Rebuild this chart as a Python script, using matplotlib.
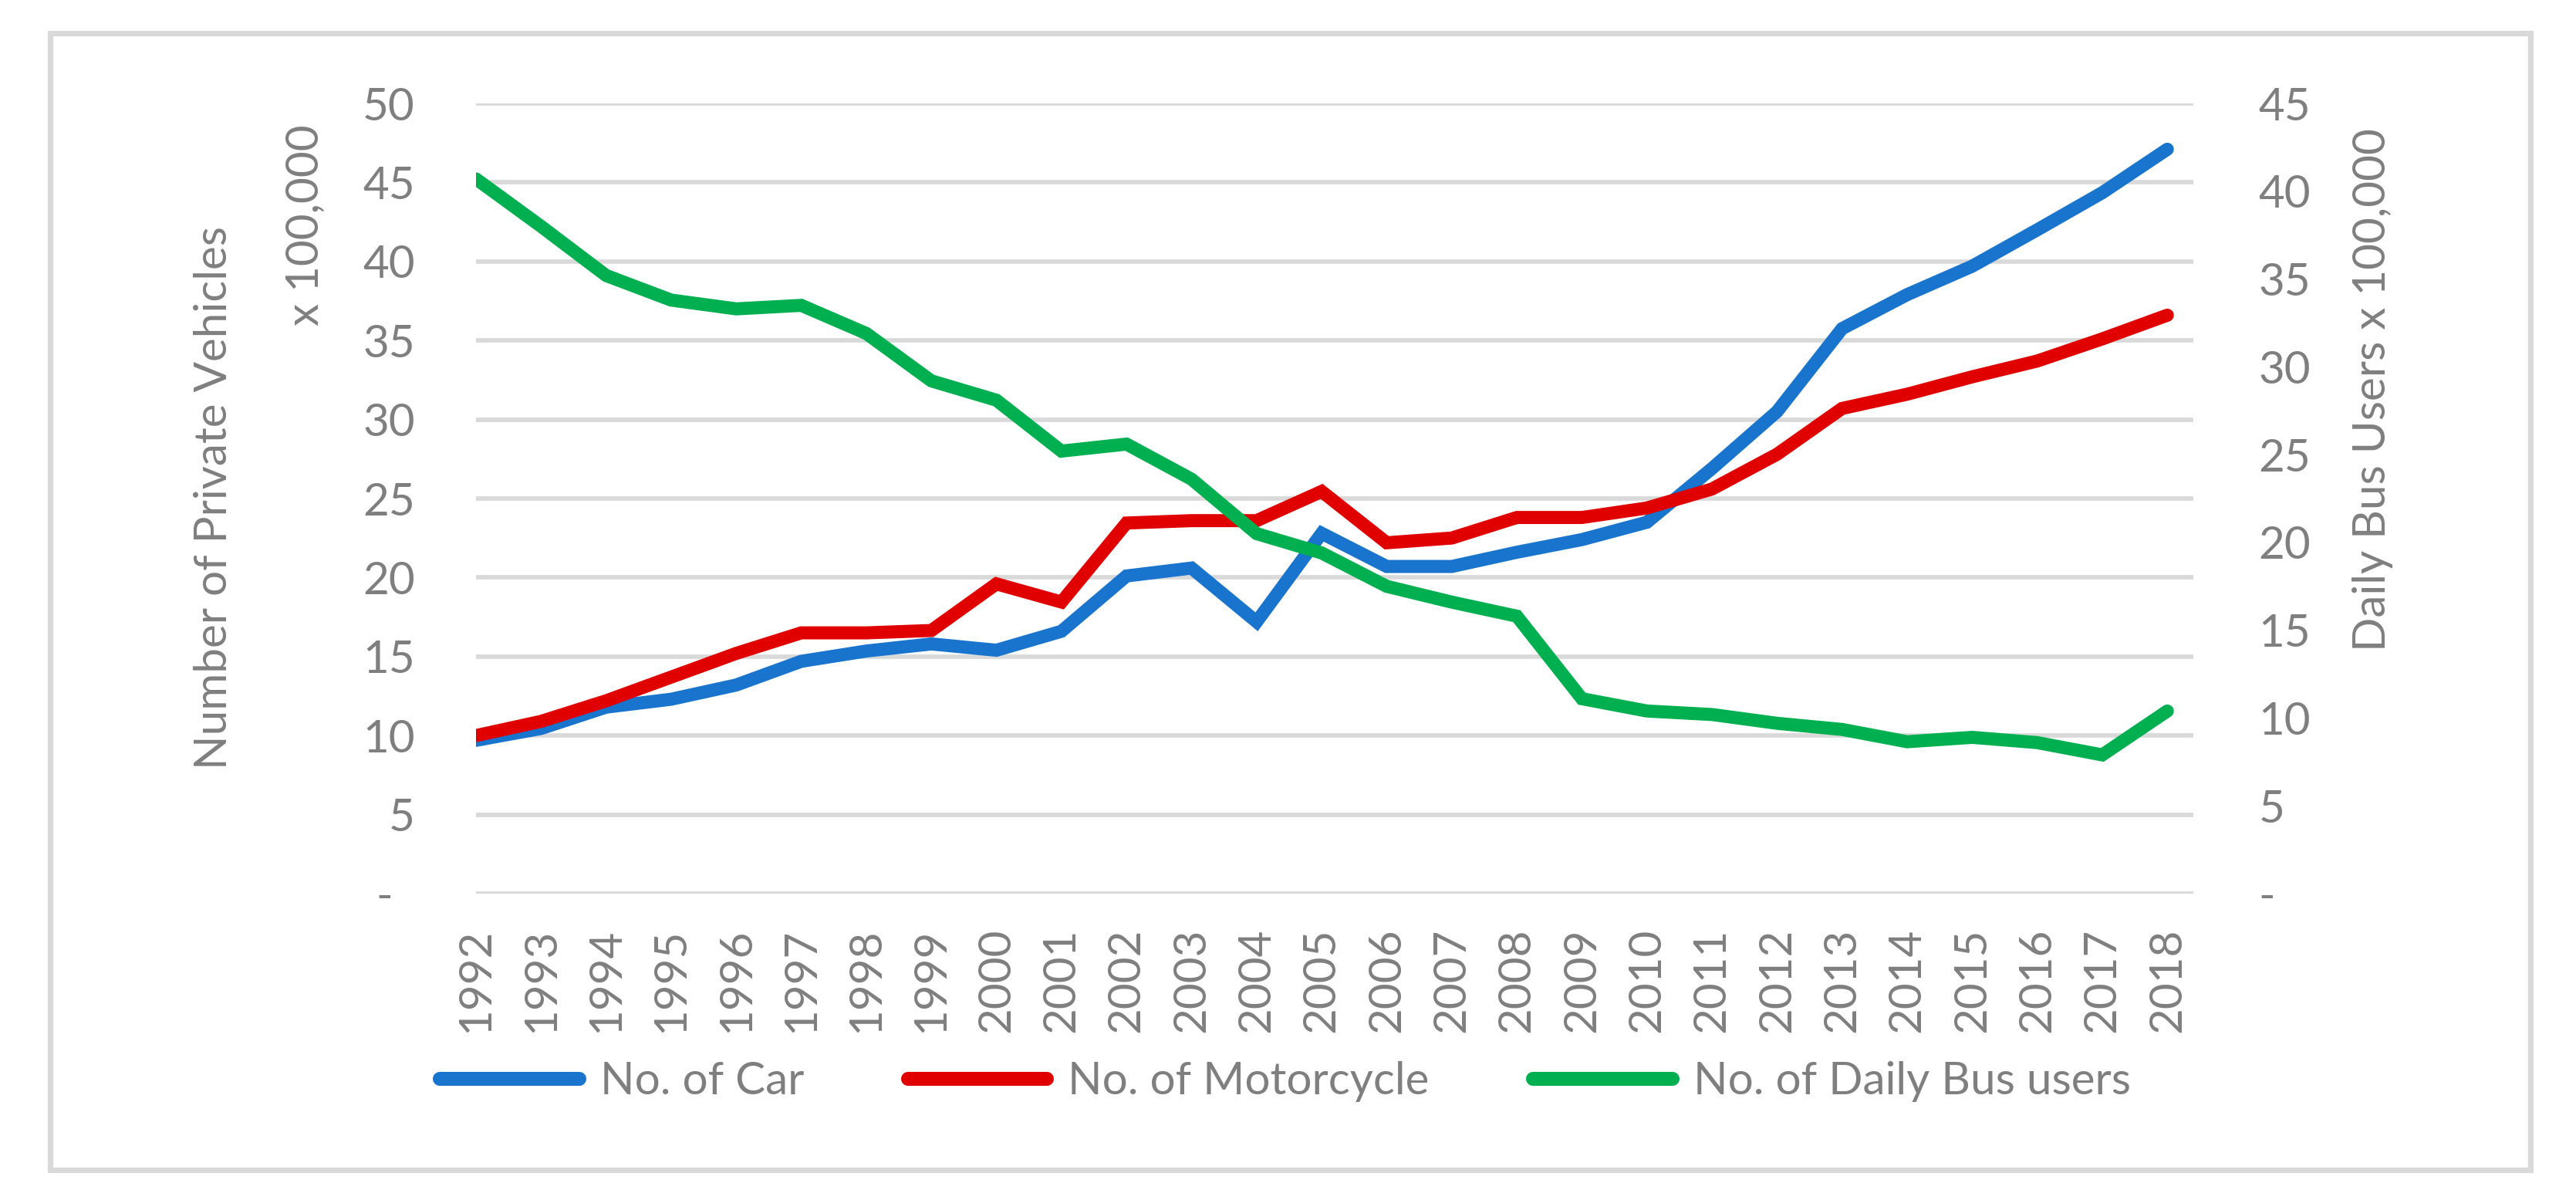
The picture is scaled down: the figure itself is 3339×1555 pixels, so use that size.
import numpy as np
import matplotlib.pyplot as plt
from matplotlib.patches import Rectangle
from matplotlib.transforms import ScaledTranslation

# values (x 100,000)
years = list(range(1992, 2019))
cars = [9.7, 10.45, 11.8, 12.3, 13.2, 14.7, 15.35, 15.8, 15.4, 16.6, 20.1, 20.6, 17.2, 22.8,
        20.7, 20.7, 21.6, 22.4, 23.5, 26.9, 30.5, 35.75, 37.9, 39.7, 42.0, 44.35, 47.1]
motorcycles = [10.0, 10.9, 12.2, 13.7, 15.2, 16.5, 16.5, 16.65, 19.6, 18.45, 23.45, 23.6, 23.6, 25.45,
               22.2, 22.5, 23.8, 23.8, 24.4, 25.6, 27.8, 30.7, 31.6, 32.7, 33.7, 35.1, 36.6]
bus_users = [40.7, 38.0, 35.2, 33.8, 33.3, 33.5, 31.9, 29.2, 28.1, 25.2, 25.6, 23.6, 20.5, 19.4,
             17.5, 16.6, 15.8, 11.1, 10.4, 10.2, 9.7, 9.35, 8.65, 8.9, 8.6, 7.9, 10.4]
left_ticks = list(range(0, 51, 5))
right_ticks = list(range(0, 46, 5))

plt.rcParams['font.family'] = ['Lato', 'DejaVu Sans']
grey = '#7f7f7f'
fs = 42
lw = 12.2

fig = plt.figure(figsize=(33.39, 15.55), dpi=100)
W, H = 3339, 1555

# chart area border
fig.patches.append(Rectangle((65 / W, 1 - 1516 / H), (3280 - 65) / W, (1516 - 43) / H,
                             transform=fig.transFigure, fill=False, ec='#d9d9d9', lw=5.2))

ax = fig.add_axes([617 / W, 1 - 1158 / H, (2843 - 617) / W, (1158 - 134) / H])
ax2 = ax.twinx()

l1, = ax.plot(years, cars, color='#1874cd', lw=lw, solid_capstyle='round', solid_joinstyle='miter',
              label='No. of Car')
l2, = ax.plot(years, motorcycles, color='#e00000', lw=lw, solid_capstyle='round',
              solid_joinstyle='miter', label='No. of Motorcycle')
l3, = ax2.plot(years, bus_users, color='#00b050', lw=lw, solid_capstyle='round',
               solid_joinstyle='miter', label='No. of Daily Bus users')

ax.set_xlim(1992, 2018.4)
ax.set_ylim(0, 50)
ax2.set_ylim(0, 45)

ax.set_yticks(left_ticks)
ax.set_yticklabels(['-'] + [str(t) for t in left_ticks[1:]])
ax2.set_yticks(right_ticks)
ax2.set_yticklabels(['-'] + [str(t) for t in right_ticks[1:]])
ax.set_xticks(years)
ax.set_xticklabels([str(y) for y in years], rotation=90)

ax.yaxis.grid(True, color='#d9d9d9', lw=4.1)
ax.set_axisbelow(True)
for a in (ax, ax2):
    for s in a.spines.values():
        s.set_visible(False)
ax.tick_params(axis='y', length=0, pad=57, labelsize=fs, labelcolor=grey)
ax.tick_params(axis='x', length=0, pad=32, labelsize=fs, labelcolor=grey)
ax2.tick_params(axis='y', length=0, pad=61, labelsize=fs, labelcolor=grey)
for lab in ax2.get_yticklabels():
    lab.set_horizontalalignment('left')

# the zero label sits a bit left of the others
zero_lab = ax.get_yticklabels()[0]
zero_lab.set_transform(zero_lab.get_transform() + ScaledTranslation(-0.29, 0, fig.dpi_scale_trans))

fig.text(277 / W, 1 - 645 / H, 'Number of Private Vehicles', rotation=90, ha='center', va='center',
         fontsize=fs, color=grey)
fig.text(396 / W, 1 - 292 / H, 'x 100,000', rotation=90, ha='center', va='center',
         fontsize=fs, color=grey)
fig.text(3076 / W, 1 - 505 / H, 'Daily Bus Users x 100,000', rotation=90, ha='center', va='center',
         fontsize=fs, color=grey)

leg = fig.legend(handles=[l1, l2, l3], loc='center', bbox_to_anchor=(1666 / W, 1 - 1402 / H),
                 ncol=3, frameon=False, fontsize=fs, handlelength=3.1, handletextpad=0.46,
                 columnspacing=2.3, labelcolor=grey)
for h in leg.get_lines():
    h.set_linewidth(13)

fig.savefig('out.png', dpi=100)
